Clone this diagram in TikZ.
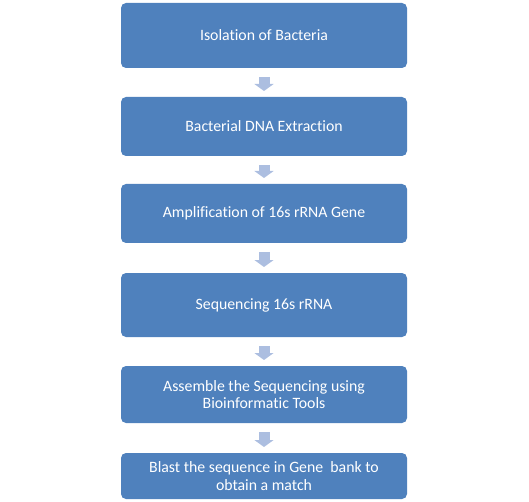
\documentclass[tikz,border=0pt]{standalone}
\usepackage{fontspec}
\setmainfont{Carlito}[Ligatures=NoCommon]
\usepackage{tikz}
\usetikzlibrary{arrows.meta}
\usetikzlibrary{positioning}
\definecolor{boxblue}{RGB}{79,129,189}
\definecolor{arrowblue}{RGB}{172,190,224}
\tikzset{
stage/.style = {rectangle, rounded corners=5pt, fill=boxblue,
                text=white, align=center, font=\fontsize{15.8}{17.5}\selectfont,
                minimum width=286pt, minimum height=#1,
                inner sep=0pt, outer sep=0pt},
stage/.default = 60pt, % box height
flow/.style = {draw=arrowblue, line width=11pt,
               -{Triangle[width=19pt,length=7pt]}}
}
\newcommand{\stagebox}[4]{\node[stage=#3] (#1) at (#2) {#4};}
\newcommand{\flow}[2]{\draw[flow, shorten <=9pt, shorten >=6pt] (#1) -- (#2);}

\begin{document}
\begin{tikzpicture}[x=1pt,y=-1pt]
    \useasboundingbox (0,0) rectangle (529,502);

    \stagebox{iso}{264,35.5}{65pt}{Isolation of Bacteria};
    \stagebox{ext}{264,126.5}{59pt}{Bacterial DNA Extraction};
    \stagebox{amp}{264,213.5}{59pt}{Amplification of 16s rRNA Gene};
    \stagebox{seq}{264,305}{64pt}{Sequencing 16s rRNA};
    \stagebox{asm}{264,394.5}{57pt}{Assemble the Sequencing using\\Bioinformatic Tools};
    \stagebox{bla}{264,476}{46pt}{Blast the sequence in Gene~ bank to\\obtain a match};

    \flow{iso.south}{ext.north};
    \flow{ext.south}{amp.north};
    \flow{amp.south}{seq.north};
    \flow{seq.south}{asm.north};
    \flow{asm.south}{bla.north};
\end{tikzpicture}
\end{document}
